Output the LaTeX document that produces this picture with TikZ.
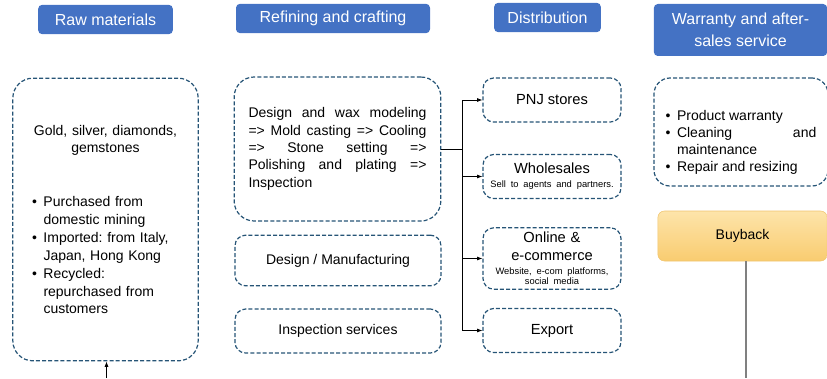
\documentclass[tikz,border=0pt]{standalone}
\usepackage{fontspec}
\setmainfont{Liberation Sans}
\usetikzlibrary{positioning, arrows.meta}

\definecolor{hdrblue}{RGB}{68,114,196}
\definecolor{dashblue}{RGB}{38,84,118}
\definecolor{buytop}{RGB}{253,228,170}
\definecolor{buybot}{RGB}{249,204,112}
\definecolor{buyline}{RGB}{240,196,110}

% bullet line with hanging indent
\newcommand{\bitem}[1]{\par\hangindent=8.5pt\hangafter=1\noindent\makebox[8.5pt][l]{\textbullet}#1\par}

\begin{document}
\frenchspacing
\begin{tikzpicture}[x=0.75pt, y=-0.75pt,
    % styles
    header/.style={rectangle, fill=hdrblue, text=white, rounded corners=3pt, minimum height=22pt, align=center, inner sep=2pt, font=\fontsize{12}{16.5}\selectfont},
    stage/.style={rectangle, draw=dashblue, dash pattern=on 3pt off 1.6pt, line width=0.9pt, rounded corners=8pt, align=center, inner sep=2pt, font=\fontsize{10.5}{13.4}\selectfont},
    dist/.style={stage, minimum width=103.5pt, minimum height=33pt, font=\fontsize{11}{13.3}\selectfont},
    buy/.style={rectangle, draw=buyline, top color=buytop, bottom color=buybot, rounded corners=5pt, minimum width=127pt, minimum height=37.5pt, font=\fontsize{10.5}{13}\selectfont},
    myarrow/.style={-{Latex[length=4pt,width=3pt]}, line width=0.6pt, draw=black},
    backline/.style={line width=0.8pt, draw=gray}
]
\useasboundingbox (0,0) rectangle (827,378);

% headers
\node[header, minimum width=101pt] (hraw) at (105.5,19.5) {Raw materials};
\node[header, minimum width=145.5pt] (href) at (333,18.5) {Refining and crafting};
\node[header, minimum width=80pt] (hdist) at (547.5,17.5) {Distribution};
\node[header, minimum width=130pt, minimum height=39pt] (hwarr) at (740.5,30) {Warranty and after-\\sales service};

% raw materials
\node[stage, minimum width=139pt, minimum height=212pt, rounded corners=15pt, text width=110pt, align=left] (raw) at (105.5,219.5) {%
  {\centering Gold, silver, diamonds,\\gemstones\par}
  \vspace{27pt}
  \bitem{Purchased from\newline domestic mining}
  \bitem{Imported: from Italy,\newline Japan, Hong Kong}
  \bitem{Recycled:\newline repurchased from\newline customers}};

% refining and crafting
\node[stage, minimum width=155pt, minimum height=108pt, rounded corners=15pt, text width=133.5pt, align=justify, font=\fontsize{10.5}{13}\selectfont] (refine) at (337.5,149) {Design and wax modeling\linebreak => Mold casting => Cooling\linebreak => Stone setting =>\linebreak Polishing and plating =>\linebreak Inspection};
\node[stage, minimum width=154.5pt, minimum height=38pt] (design) at (338,260.5) {Design / Manufacturing};
\node[stage, minimum width=154.5pt, minimum height=33pt] (inspect) at (338,331) {Inspection services};

% distribution
\node[dist] (pnj) at (552,100) {PNJ stores};
\node[dist, text width=99pt] (whole) at (552,176.5) {Wholesales\par
  {\fontsize{7}{10.5}\selectfont Sell to agents and partners.\par}};
\node[dist, minimum height=46pt, text width=99pt] (online) at (552,258.5) {Online \&\\e-commerce\par
  {\fontsize{7}{10.7}\selectfont Website, e-com platforms,\par}
  {\fontsize{7}{7.6}\selectfont social media\par}};
\node[dist] (export) at (552,330.5) {Export};

% warranty and buyback
\node[stage, minimum width=130.5pt, minimum height=81pt, rounded corners=12pt, text width=113pt, align=justify, font=\fontsize{10.5}{12.8}\selectfont] (warr) at (741,132) {%
  \vspace*{10pt}
  \bitem{Product warranty}
  \bitem{Cleaning and\linebreak maintenance}
  \bitem{Repair and resizing}};
\node[buy] (buy) at (742.5,236) {Buyback};

% connectors
\coordinate (fork) at (462,149);
\draw[line width=0.6pt] (refine.east) -- (fork);
\foreach \t in {pnj,whole,online,export}
  \draw[myarrow] (fork) |- (\t.west);

\coordinate (rawin) at (106.5,378);
\draw[myarrow] (rawin) -- (rawin |- raw.south);

\coordinate (buyend) at (746,378);
\draw[backline] (buyend |- buy.south) -- (buyend);

\end{tikzpicture}
\end{document}
